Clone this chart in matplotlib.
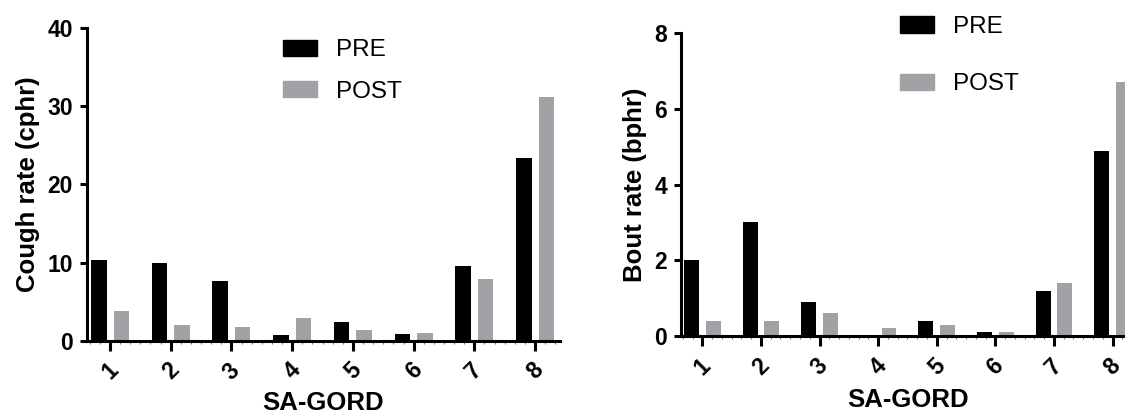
import matplotlib
matplotlib.use("Agg")
import matplotlib.pyplot as plt
import numpy as np
from matplotlib.patches import Patch
from matplotlib.ticker import MultipleLocator

plt.rcParams['font.family'] = ['Liberation Sans', 'DejaVu Sans']

patients = ['1', '2', '3', '4', '5', '6', '7', '8']
cough_pre = [10.3, 10.0, 7.6, 0.7, 2.4, 0.9, 9.6, 23.4]
cough_post = [3.8, 2.0, 1.7, 2.9, 1.4, 1.0, 7.9, 31.2]
bout_pre = [2.0, 3.0, 0.9, 0.0, 0.4, 0.1, 1.2, 4.9]
bout_post = [0.4, 0.4, 0.6, 0.2, 0.3, 0.1, 1.4, 6.7]

PRE_COLOR = '#000000'
POST_COLOR = '#a2a2a6'
W = 1125
H = 416


def px_axes(fig, x0, x1, y_top, y_bottom):
    # axes rectangle given in pixel coordinates measured from the top-left
    return fig.add_axes([x0 / W, 1 - y_bottom / H, (x1 - x0) / W, (y_bottom - y_top) / H])


def draw_panel(ax, pre, post, ymax, ystep, ylabel, xlim, label_x, xlabel_pad,
               leg_anchor, leg_spacing):
    x = np.arange(1, len(patients) + 1)
    ax.bar(x - 0.185, pre, width=0.255, color=PRE_COLOR, label='PRE')
    ax.bar(x + 0.185, post, width=0.255, color=POST_COLOR, label='POST')

    ax.set_xlim(*xlim)
    ax.set_ylim(0, ymax)
    ax.set_yticks(np.arange(0, ymax + ystep / 2, ystep))
    ax.set_xticks(x)
    ax.set_xticklabels(patients, rotation=45, ha='center', va='top')
    ax.xaxis.set_minor_locator(MultipleLocator(1 / 6))

    for s in ('top', 'right'):
        ax.spines[s].set_visible(False)
    for s in ('left', 'bottom'):
        ax.spines[s].set_linewidth(2.2)
    ax.spines['bottom'].set_capstyle('projecting')

    ax.tick_params(axis='y', which='major', length=5, width=2.2, pad=5,
                   labelsize=16.5)
    ax.tick_params(axis='x', which='major', length=7, width=2.2, pad=6,
                   labelsize=16.5)
    ax.tick_params(axis='x', which='minor', length=2, width=0.8, color='#777777')
    for lab in ax.get_xticklabels() + ax.get_yticklabels():
        lab.set_fontweight('bold')

    ax.set_ylabel(ylabel, fontsize=18.5, fontweight='bold')
    ax.yaxis.set_label_coords(label_x, 0.5)
    ax.set_xlabel('SA-GORD', fontsize=18.5, fontweight='bold', labelpad=xlabel_pad)

    handles = [Patch(color=PRE_COLOR, label='PRE'), Patch(color=POST_COLOR, label='POST')]
    ax.legend(handles=handles, loc='upper left', bbox_to_anchor=leg_anchor,
              frameon=False, fontsize=17.5, handlelength=1.4, handleheight=0.66,
              handletextpad=0.8, labelspacing=leg_spacing, borderpad=0,
              borderaxespad=0)


fig = plt.figure(figsize=(W / 100, H / 100), dpi=100)

ax1 = px_axes(fig, 87, 560, 28.3, 340.7)
draw_panel(ax1, cough_pre, cough_post, 40, 10, 'Cough rate (cphr)',
           (0.621, 8.41), -0.10, 5, (0.414, 0.965), 0.8)

ax2 = px_axes(fig, 681, 1136, 33.3, 336)
draw_panel(ax2, bout_pre, bout_post, 8, 2, 'Bout rate (bphr)',
           (0.636, 8.40), -0.074, 6, (0.481, 1.057), 1.45)

fig.savefig('out.png', dpi=100)
